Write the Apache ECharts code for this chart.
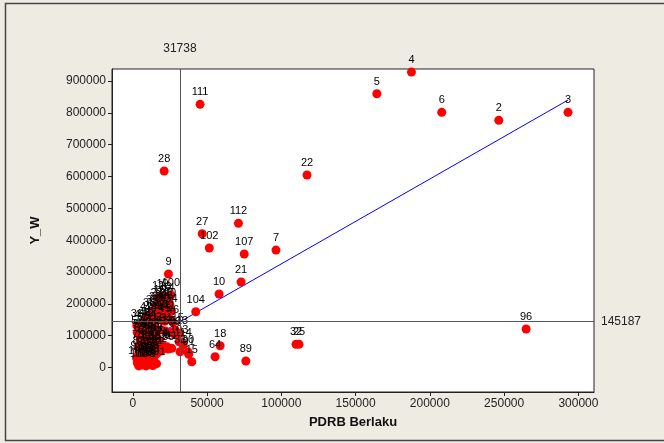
<!DOCTYPE html>
<html>
<head>
<meta charset="utf-8">
<script src="https://cdn.jsdelivr.net/npm/echarts@6/dist/echarts.min.js"></script>
<style>
html,body{margin:0;padding:0;background:#EEEBE2;}
#c{width:664px;height:443px;}
</style>
</head>
<body>
<div id="c"></div>
<script>
// Observation ids, x (PDRB Berlaku) and y (Y_W)
var ids = [4,5,6,2,3,111,28,22,112,27,102,107,7,9,21,10,100,104,96,18,64,89,32,25,15,90,91,31,85,113,103,19,
  12,13,14,16,17,20,23,24,26,29,30,34,35,36,37,38,39,40,41,42,43,44,45,46,47,48,49,50,51,52,53,54,55,56,57,58,59,60,
  61,62,63,65,66,67,68,69,70,71,72,73,74,75,76,77,78,79,80,81,82,83,84,86,87,88,92,93,94,95,97,98,99,101,105,106,108,109,110,1,8,11,33,114,115];
var xVals = [187600,164300,208000,246400,293000,45300,21100,117300,71100,46700,51500,75000,96400,24000,72900,58100,25600,42400,264800,58800,55400,76100,109900,111900,39700,37200,37600,2700,23800,31400,31200,20000,
  17000,22000,24000,18000,21000,25000,16000,19000,23000,15000,20500,26000,13000,17500,22500,11000,14000,19500,24500,9000,12000,16500,21500,27000,5000,8000,10000,7000,12500,15500,18500,22000,25000,28000,3000,4500,6000,8000,
  10000,12000,14000,16000,18000,5000,7500,9500,11500,13500,15500,17500,20000,3500,6000,8500,10500,12500,14500,16500,19000,4000,7000,9000,11000,13000,15000,2500,5500,8000,10000,12000,14000,16000,3000,6500,9000,11500,4000,13500,22900,26200,31800,33900,28500];
var yVals = [928300,860200,801700,776600,801700,826900,617300,604800,453000,420400,375400,356600,369000,293700,268600,230900,227800,175300,121000,68500,33900,20400,72900,72900,18200,48700,41500,132000,58000,107000,81000,225000,
  220000,215000,212000,205000,200000,198000,195000,190000,188000,185000,180000,178000,175000,170000,168000,165000,160000,158000,155000,152000,150000,148000,145000,142000,128000,135000,130000,120000,125000,120000,118000,115000,110000,105000,110000,100000,95000,105000,
  98000,92000,100000,95000,85000,85000,80000,75000,82000,70000,78000,65000,70000,65000,60000,55000,62000,50000,58000,45000,52000,45000,40000,35000,42000,30000,38000,30000,25000,20000,28000,15000,22000,12000,15000,8000,5000,10000,5000,6000,65300,60300,49600,70700,117800];
// fitted regression line endpoints
var lineX = [2000, 293000];
var lineY = [64300, 840400];
var refX = 31738, refY = 145187;
var xTicks = [0,50000,100000,150000,200000,250000,300000];
var yTicks = [0,100000,200000,300000,400000,500000,600000,700000,800000,900000];

var pts = ids.map(function(id,i){return {value:[xVals[i],yVals[i]], name:String(id)};});
var font = 'Liberation Sans, Arial, sans-serif';
var plain = function(v){return String(v);};
var chart = echarts.init(document.getElementById('c'));
chart.setOption({
  backgroundColor:'#EEEBE2',
  animation:false,
  graphic:[{type:'rect',shape:{x:5.5,y:3.5,width:720,height:437},style:{fill:'none',stroke:'#444',lineWidth:1.5},silent:true}],
  grid:{left:112,right:70,top:69,bottom:51,show:true,backgroundColor:'#fff',borderColor:'#222',borderWidth:1},
  xAxis:{type:'value',min:-14000,max:310500,
    name:'PDRB Berlaku',nameLocation:'middle',nameGap:24,
    nameTextStyle:{fontFamily:font,fontWeight:'bold',fontSize:13,color:'#111'},
    axisLine:{onZero:false,lineStyle:{color:'#222'}},
    axisTick:{show:true,length:4,customValues:xTicks,lineStyle:{color:'#222'}},
    axisLabel:{customValues:xTicks,formatter:plain,fontFamily:font,fontSize:12,color:'#222',margin:6},
    splitLine:{show:false}},
  yAxis:{type:'value',min:-77000,max:938000,
    name:'Y_W',nameLocation:'middle',nameGap:70,
    nameTextStyle:{fontFamily:font,fontWeight:'bold',fontSize:13,color:'#111'},
    axisLine:{onZero:false,lineStyle:{color:'#222'}},
    axisTick:{show:true,length:4,customValues:yTicks,lineStyle:{color:'#222'}},
    axisLabel:{customValues:yTicks,formatter:plain,fontFamily:font,fontSize:12,color:'#222',margin:6},
    splitLine:{show:false}},
  series:[
    {type:'line',data:lineX.map(function(x,i){return [x,lineY[i]];}),symbol:'none',
     lineStyle:{color:'#0000FF',width:1},z:1,
     markLine:{silent:true,symbol:'none',
       lineStyle:{color:'#555',width:1,type:'solid'},
       label:{fontFamily:font,fontSize:12,color:'#222'},
       data:[
         {xAxis:refX,label:{position:'end',distance:14,formatter:String(refX)}},
         {yAxis:refY,label:{position:'end',distance:7,formatter:String(refY)}}
       ]}},
    {type:'scatter',data:pts,symbolSize:9,itemStyle:{color:'#FF0000',opacity:1},z:3,
     label:{show:true,position:'top',distance:2,formatter:'{b}',fontFamily:font,fontSize:11,color:'#000'},
     labelLayout:{hideOverlap:false}}
  ]
});
</script>
</body>
</html>
